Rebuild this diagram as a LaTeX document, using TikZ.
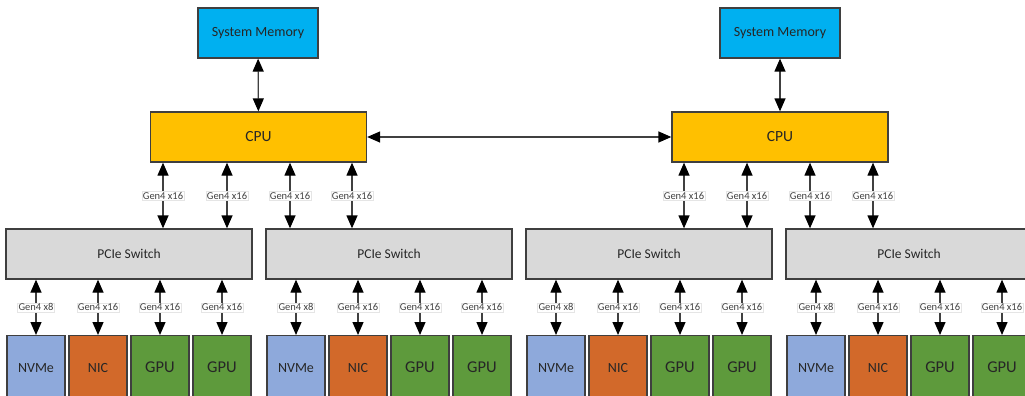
\documentclass[tikz,border=0pt]{standalone}
\usepackage{fontspec}
\setmainfont{Carlito}
\usetikzlibrary{arrows.meta}
\definecolor{memc}{HTML}{00B0F0}
\definecolor{cpuc}{HTML}{FFC000}
\definecolor{swc}{HTML}{D9D9D9}
\definecolor{nvmec}{HTML}{8EA9DB}
\definecolor{nicc}{HTML}{D2692A}
\definecolor{gpuc}{HTML}{5E9A3C}
\definecolor{boxline}{HTML}{3F3F3F}
\definecolor{linec}{HTML}{404040}
\begin{document}
\begin{tikzpicture}[x=1pt,y=-1pt,
  box/.style={draw=boxline,line width=1.3pt,inner sep=0pt,text=black!85},
  arr/.style={line width=1.3pt,draw=linec,{Triangle[length=13pt,width=11pt,color=black]}-{Triangle[length=13pt,width=11pt,color=black]}},
  lbl/.style={fill=white,draw=gray!20,line width=0.3pt,inner sep=1pt,text=black!75,font=\fontsize{10.5}{11}\selectfont},
  mem/.style={box,fill=memc,minimum width=120pt,minimum height=50pt,font=\fontsize{14}{15}\selectfont},
  cpu/.style={box,fill=cpuc,minimum width=216pt,minimum height=50pt,font=\fontsize{15.5}{16}\selectfont},
  sw/.style={box,fill=swc,minimum width=246pt,minimum height=50pt,font=\fontsize{13.5}{14}\selectfont},
  dev/.style={box,minimum width=58pt,minimum height=64pt,anchor=north},
  nvme/.style={dev,fill=nvmec,font=\fontsize{14}{15}\selectfont},
  nic/.style={dev,fill=nicc,font=\fontsize{14}{15}\selectfont},
  gpu/.style={dev,fill=gpuc,font=\fontsize{16.5}{17}\selectfont}]
\clip (0,0) rectangle (1025,396);
\fill[white] (0,0) rectangle (1025,396);
% memory and CPUs
\node[mem] (memL) at (258,33) {System Memory};
\node[mem] (memR) at (780,33) {System Memory};
\node[cpu] (cpuL) at (258.5,137) {CPU};
\node[cpu] (cpuR) at (780,137) {CPU};
\draw[arr] (memL) -- (cpuL);
\draw[arr] (memR) -- (cpuR);
\draw[arr] (cpuL) -- (cpuR);
% switches and devices
\foreach \g in {0,1,2,3}{
  \pgfmathsetmacro{\ox}{260*\g}
  \node[sw] (sw\g) at (\ox+129,254) {PCIe Switch};
  \node[nvme] (nv\g) at (\ox+36,335) {NVMe};
  \node[nic] (ni\g) at (\ox+98,335) {NIC};
  \node[gpu] (ga\g) at (\ox+160,335) {GPU};
  \node[gpu] (gb\g) at (\ox+222,335) {GPU};
  \draw[arr] (sw\g.south -| nv\g.north) -- (nv\g.north) node[lbl,midway] {Gen4 x8};
  \draw[arr] (sw\g.south -| ni\g.north) -- (ni\g.north) node[lbl,midway] {Gen4 x16};
  \draw[arr] (sw\g.south -| ga\g.north) -- (ga\g.north) node[lbl,midway] {Gen4 x16};
  \draw[arr] (sw\g.south -| gb\g.north) -- (gb\g.north) node[lbl,midway] {Gen4 x16};
}
% CPU to switch links
\coordinate (c1) at (163,0);
\coordinate (c2) at (227,0);
\coordinate (c3) at (290,0);
\coordinate (c4) at (352,0);
\coordinate (c5) at (684,0);
\coordinate (c6) at (747,0);
\coordinate (c7) at (810,0);
\coordinate (c8) at (873,0);
\draw[arr] (cpuL.south -| c1) -- (sw0.north -| c1) node[lbl,midway] {Gen4 x16};
\draw[arr] (cpuL.south -| c2) -- (sw0.north -| c2) node[lbl,midway] {Gen4 x16};
\draw[arr] (cpuL.south -| c3) -- (sw1.north -| c3) node[lbl,midway] {Gen4 x16};
\draw[arr] (cpuL.south -| c4) -- (sw1.north -| c4) node[lbl,midway] {Gen4 x16};
\draw[arr] (cpuR.south -| c5) -- (sw2.north -| c5) node[lbl,midway] {Gen4 x16};
\draw[arr] (cpuR.south -| c6) -- (sw2.north -| c6) node[lbl,midway] {Gen4 x16};
\draw[arr] (cpuR.south -| c7) -- (sw3.north -| c7) node[lbl,midway] {Gen4 x16};
\draw[arr] (cpuR.south -| c8) -- (sw3.north -| c8) node[lbl,midway] {Gen4 x16};
\end{tikzpicture}
\end{document}
